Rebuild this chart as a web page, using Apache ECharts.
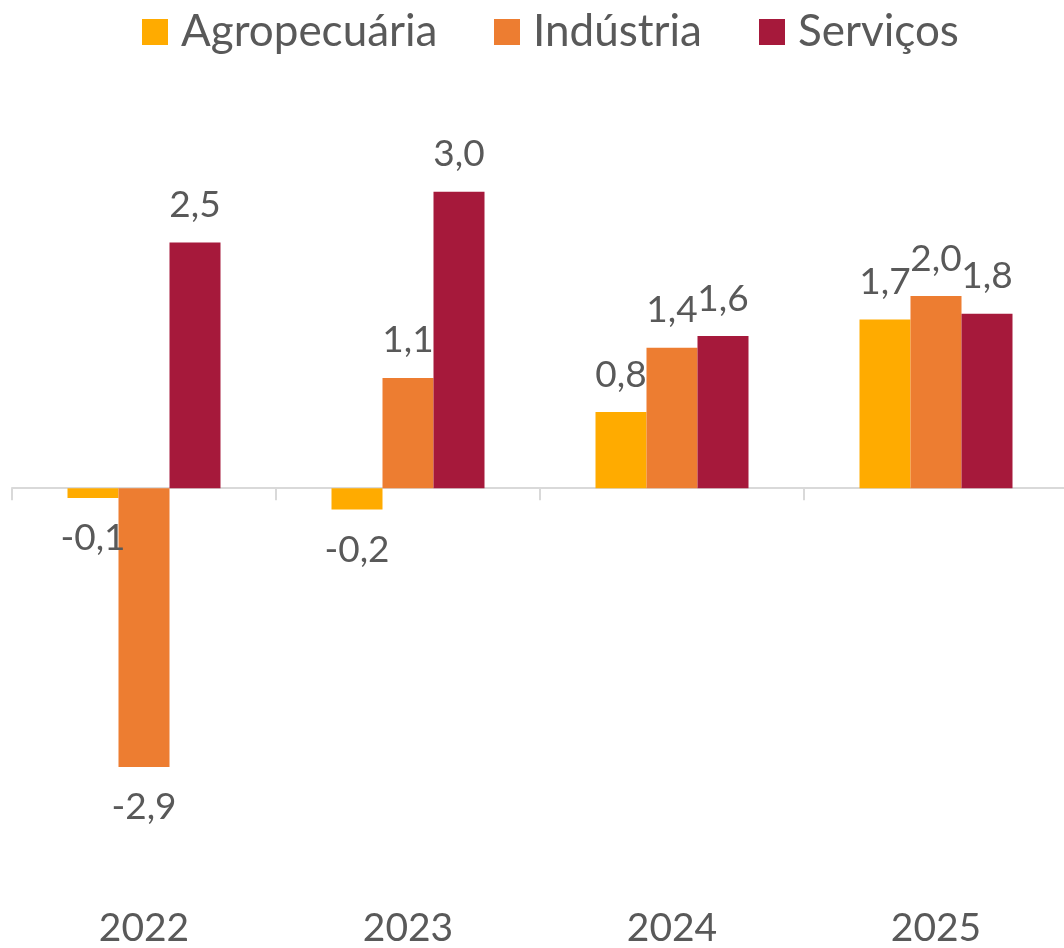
<!DOCTYPE html>
<html>
<head>
<meta charset="utf-8">
<title>Crescimento por setor</title>
<script src="https://cdn.jsdelivr.net/npm/echarts@6/dist/echarts.min.js"></script>
<style>
  html, body { margin: 0; padding: 0; background: #fff; overflow: hidden; }
  /* a linha do eixo passa um pouco da borda direita, como no original */
  #chart { width: 1068px; height: 948px; }
</style>
</head>
<body>
<div id="chart"></div>
<script>
// valores (rótulos com uma casa decimal)
var years = ['2022', '2023', '2024', '2025'];
var agropecuaria = [-0.10, -0.22, 0.78, 1.73];
var industria = [-2.86, 1.13, 1.44, 1.97];
var servicos = [2.52, 3.04, 1.56, 1.79];

var seriesNames = ['Agropecuária', 'Indústria', 'Serviços'];
var seriesColors = ['#FFAB00', '#ED7D31', '#A6193B'];
var legendLeft = [142, 494, 759];

var font = 'Lato, "Open Sans", sans-serif';
var textColor = '#595959';

function toData(values) {
  return values.map(function (v) {
    return { value: v, label: { distance: v < 0 ? 22 : 19 } };
  });
}

function fmt(p) {
  return p.value.toFixed(1).replace('.', ',');
}

var chart = echarts.init(document.getElementById('chart'));

var series = [agropecuaria, industria, servicos].map(function (vals, i) {
  return {
    name: seriesNames[i],
    type: 'bar',
    barWidth: 51,
    barGap: '0%',
    itemStyle: { color: seriesColors[i] },
    label: {
      show: true,
      position: 'outside',
      formatter: fmt,
      fontSize: 37,
      fontFamily: font,
      color: textColor
    },
    data: toData(vals)
  };
});

chart.setOption({
  animation: false,
  // uma legenda por série para fixar a posição de cada item
  legend: seriesNames.map(function (name, i) {
    return {
      data: [name],
      left: legendLeft[i],
      top: 10,
      padding: 0,
      icon: 'rect',
      itemWidth: 26,
      itemHeight: 26,
      selectedMode: false,
      textStyle: {
        fontSize: 44,
        fontFamily: font,
        color: textColor,
        padding: [0, 0, 0, 8]
      }
    };
  }),
  grid: {
    left: 12,
    right: 0,
    top: 147,
    bottom: 70,
    outerBoundsMode: 'none'
  },
  xAxis: [{
    type: 'category',
    data: years,
    position: 'bottom',
    axisLine: { onZero: true, lineStyle: { color: '#D9D9D9', width: 2 } },
    axisTick: { show: true, length: 12, lineStyle: { color: '#D9D9D9', width: 2 } },
    axisLabel: { show: false }
  }, {
    type: 'category',
    data: years,
    position: 'bottom',
    axisLine: { show: false, onZero: false },
    axisTick: { show: false },
    axisLabel: {
      margin: 31,
      fontSize: 39,
      fontFamily: font,
      color: textColor
    }
  }],
  yAxis: {
    type: 'value',
    min: -4,
    max: 3.5,
    show: false
  },
  series: series
});
</script>
</body>
</html>
